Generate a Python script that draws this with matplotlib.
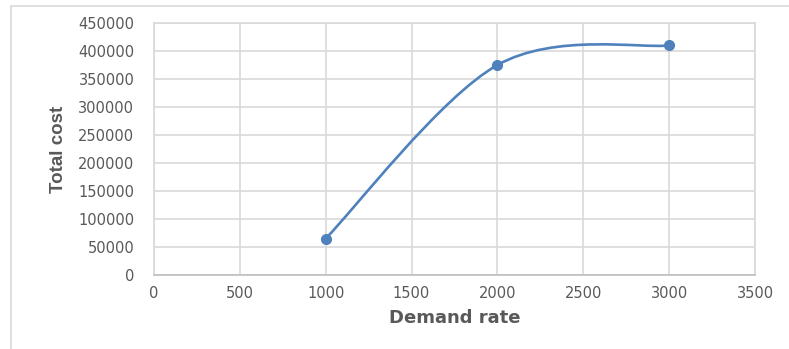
import numpy as np
import matplotlib
matplotlib.use('Agg')
import matplotlib.pyplot as plt
from matplotlib.path import Path
from matplotlib.patches import PathPatch, Rectangle

# data
demand_rate = [1000, 2000, 3000]
total_cost = [65000, 375000, 410000]
x_ticks = [0, 500, 1000, 1500, 2000, 2500, 3000, 3500]
y_ticks = [0, 50000, 100000, 150000, 200000, 250000, 300000, 350000, 400000, 450000]

line_color = '#4F81BD'
grid_color = '#D9D9D9'
text_color = '#595959'

fig = plt.figure(figsize=(7.89, 3.49), dpi=100)
ax = fig.add_axes([0.195, 0.212, 0.762, 0.722])

# smoothed line like Excel (Bezier through the points)
pts = np.column_stack([demand_rate, total_cost]).astype(float)
verts = [pts[0]]
codes = [Path.MOVETO]
n = len(pts)
for i in range(n - 1):
    p0 = pts[max(i - 1, 0)]
    p1 = pts[i]
    p2 = pts[i + 1]
    p3 = pts[min(i + 2, n - 1)]
    c1 = p1 + (p2 - p0) / 6.0
    c2 = p2 - (p3 - p1) / 6.0
    verts += [c1, c2, p2]
    codes += [Path.CURVE4] * 3
ax.add_patch(PathPatch(Path(verts, codes), facecolor='none', edgecolor=line_color, lw=1.9, zorder=3))
ax.plot(demand_rate, total_cost, 'o', color=line_color, markersize=7, zorder=4)

ax.set_xlim(0, 3500)
ax.set_ylim(0, 450000)
ax.set_xticks(x_ticks)
ax.set_yticks(y_ticks)
ax.grid(True, color=grid_color, lw=1.2)
ax.set_axisbelow(True)
for s in ax.spines.values():
    s.set_color(grid_color)
    s.set_linewidth(1.2)
ax.spines['bottom'].set_color('#BFBFBF')
ax.tick_params(length=0, labelsize=10.5, colors=text_color)
ax.tick_params(axis='y', pad=14)
ax.tick_params(axis='x', pad=8)

ax.set_xlabel('Demand rate', fontsize=13, fontweight='bold', color=text_color, labelpad=6)
ax.set_ylabel('Total cost', fontsize=13.5, fontweight='bold', color=text_color,
              family=['Liberation Sans', 'DejaVu Sans'], labelpad=8)

fig.patches.append(Rectangle((11 / 789, -0.01), 1.0, 1 - 6 / 349 + 0.01, transform=fig.transFigure,
                             fill=False, edgecolor='#D9D9D9', lw=1.2))

fig.savefig('out.png', dpi=100)
